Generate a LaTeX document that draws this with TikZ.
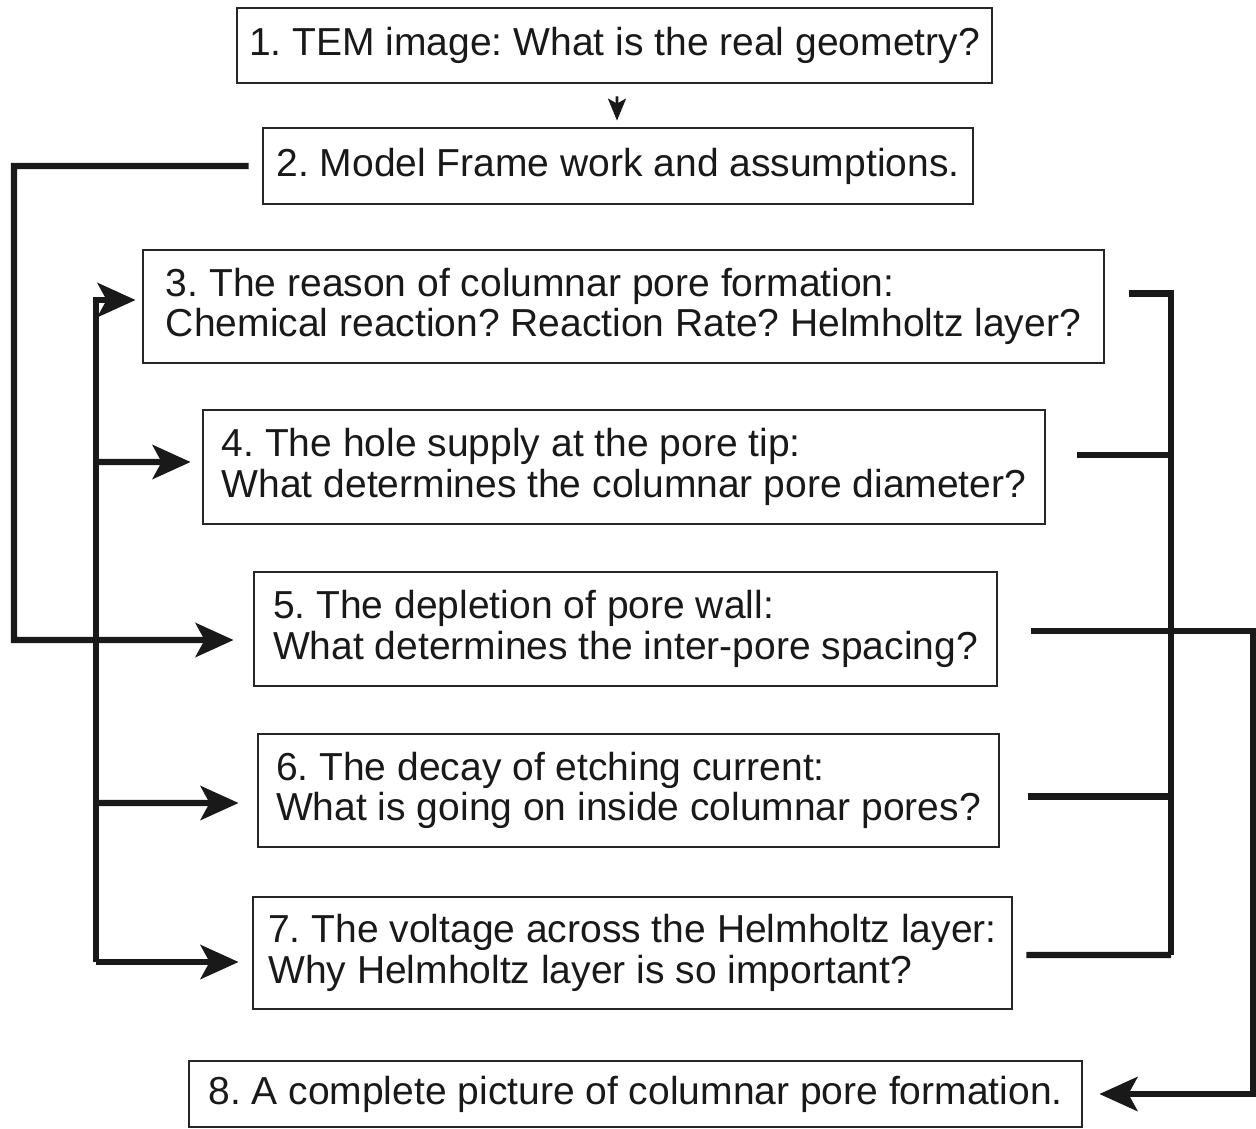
\documentclass[tikz,border=0pt]{standalone}
\usepackage{fontspec}
\setmainfont{Liberation Sans}
\usetikzlibrary{arrows.meta,positioning}
\frenchspacing

\begin{document}
\begin{tikzpicture}[
  every node/.style={font=\fontsize{11.1pt}{11.5pt}\selectfont,align=left,text=black!90},
  question/.style={draw=black!85,line width=0.8pt,inner sep=0pt},
  link/.style={line width=1.8pt,draw=black!90},
  arrow/.style={link,-{Stealth[length=3.8mm,width=3.4mm,inset=0.9mm]}},
  smallarrow/.style={line width=0.8pt,draw=black!90,-{Stealth[length=2.2mm,width=1.8mm,inset=0.5mm]}}
]
\useasboundingbox (0,0) rectangle (12.56,-11.28);
\node[question,minimum width=7.55cm,minimum height=0.75cm] (tem) at (6.145,-0.455) {1. TEM image: What is the real geometry?};
\node[question,minimum width=7.10cm,minimum height=0.76cm] (model) at (6.18,-1.66) {2. Model Frame work and assumptions.};
\node[question,minimum width=9.61cm,minimum height=1.13cm] (reason) at (6.235,-3.065) {3. The reason of columnar pore formation:\\Chemical reaction? Reaction Rate? Helmholtz layer?};
\node[question,minimum width=8.42cm,minimum height=1.14cm] (supply) at (6.24,-4.67) {4. The hole supply at the pore tip:\\What determines the columnar pore diameter?};
\node[question,minimum width=7.43cm,minimum height=1.14cm] (depletion) at (6.255,-6.29) {5. The depletion of pore wall:\\What determines the inter-pore spacing?};
\node[question,minimum width=7.41cm,minimum height=1.13cm] (decay) at (6.285,-7.905) {6. The decay of etching current:\\What is going on inside columnar pores?};
\node[question,minimum width=7.59cm,minimum height=1.12cm] (voltage) at (6.325,-9.53) {7. The voltage across the Helmholtz layer:\\Why Helmholtz layer is so important?};
\node[question,minimum width=8.93cm,minimum height=0.66cm] (picture) at (6.355,-10.94) {8. A complete picture of columnar pore formation.};
% 1 -> 2
\draw[smallarrow] ([shift={(0.025,-0.12)}]tem.south) -- ([shift={(-0.01,0.06)}]model.north);
% model feeds the wall depletion
\draw[arrow] ([xshift=-0.13cm]model.west) -| (0.14,-6.40) -- ([shift={(-0.19,-0.11)}]depletion.west);
% left bus
\coordinate (lbus) at (0.96,-9.62);
\draw[arrow] (lbus) |- ([shift={(-0.06,0.065)}]reason.west);
\draw[arrow] (0.96,-4.62) -- ([shift={(-0.11,0.05)}]supply.west);
\draw[arrow] (0.96,-8.03) -- ([shift={(-0.18,-0.125)}]decay.west);
\draw[arrow] (lbus) -- ([shift={(-0.13,-0.09)}]voltage.west);
% right bus
\coordinate (rbus) at (11.71,-9.55);
\draw[link] ([shift={(0.24,0.13)}]reason.east) -| (rbus);
\draw[link] ([shift={(0.31,0.12)}]supply.east) -- (11.71,-4.55);
\draw[link] ([shift={(0.28,-0.06)}]decay.east) -- (11.71,-7.965);
\draw[link] ([shift={(0.13,-0.02)}]voltage.east) -- (rbus);
% everything ends in the full picture
\draw[arrow] ([shift={(0.33,-0.02)}]depletion.east) -- (12.53,-6.31) |- ([xshift=0.16cm]picture.east);
\end{tikzpicture}
\end{document}
